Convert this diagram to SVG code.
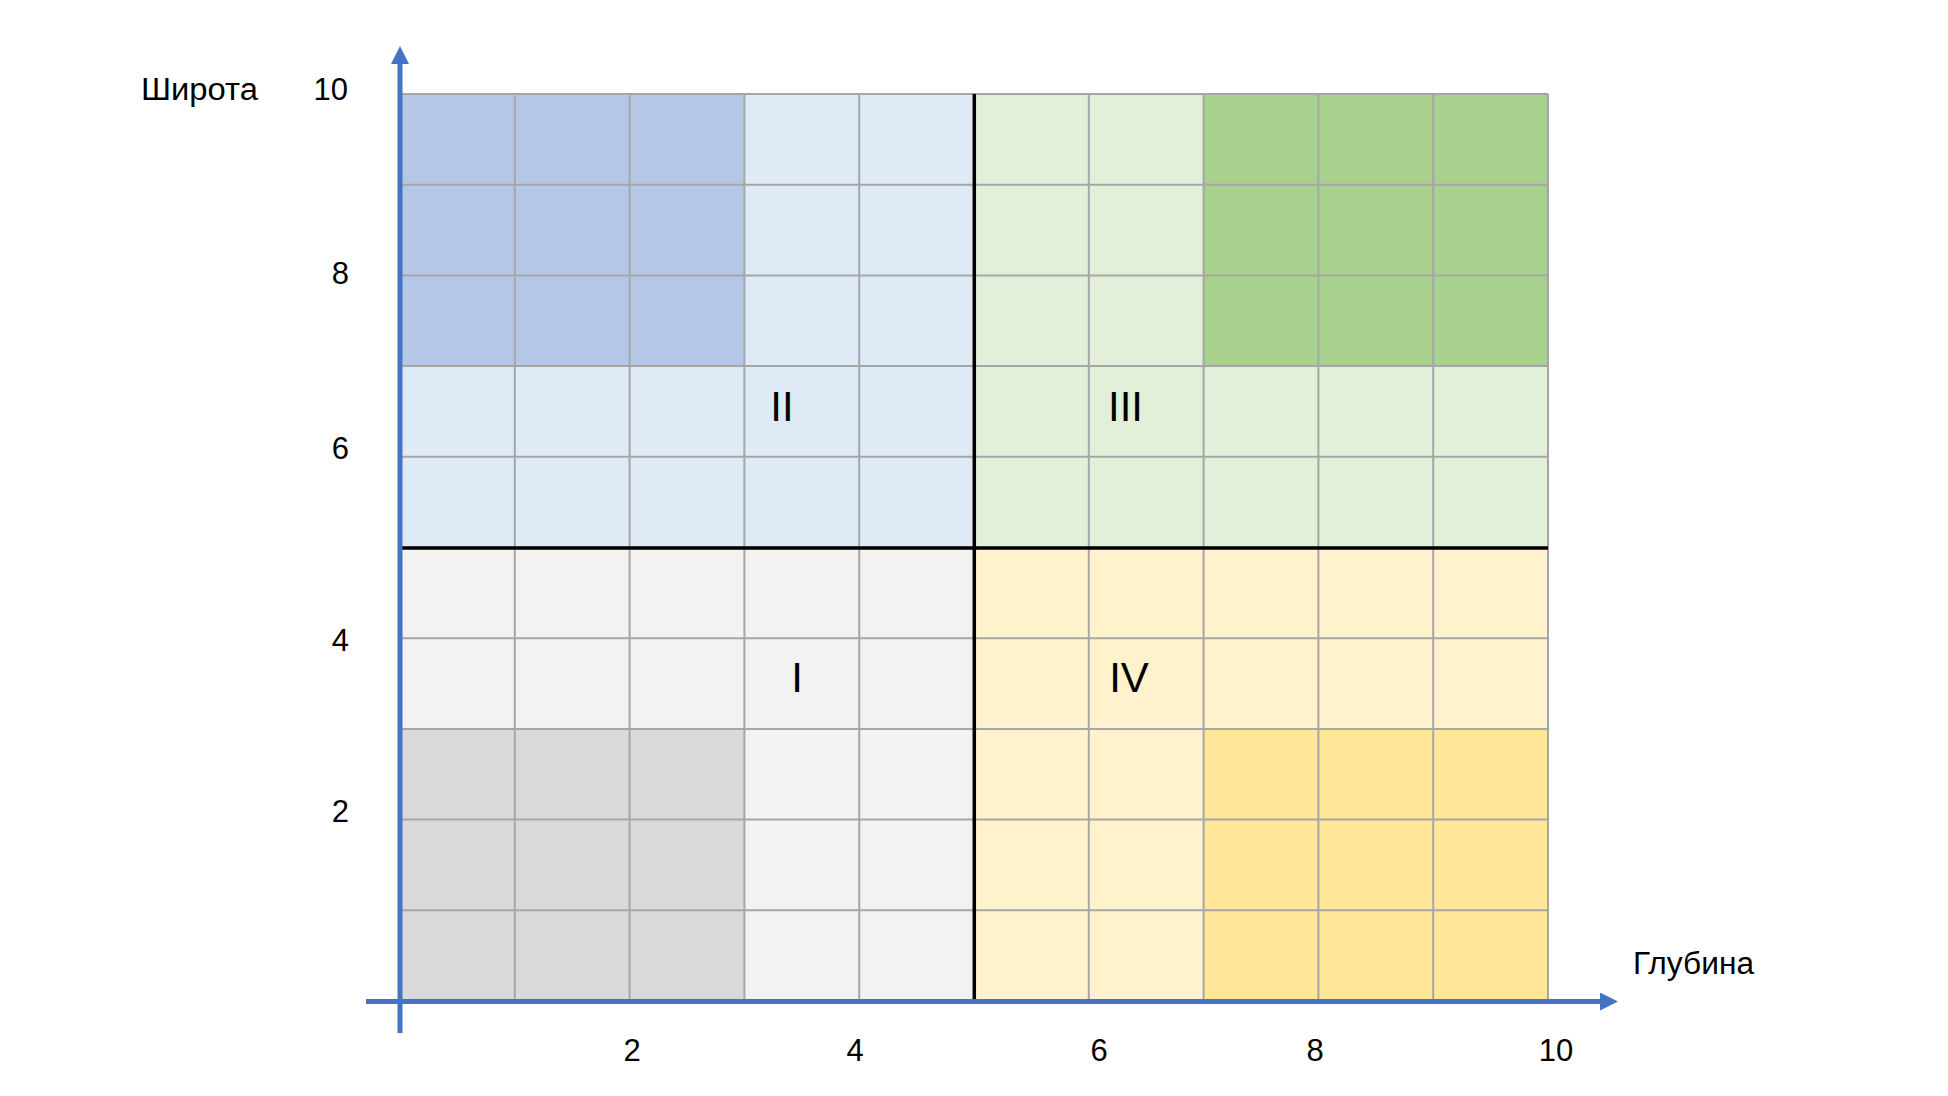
<svg xmlns="http://www.w3.org/2000/svg" width="1948" height="1096" viewBox="0 0 1948 1096">
<style>
.t{font-family:"Liberation Sans",Arial,sans-serif;font-size:31px;fill:#000}
.r{font-family:"Liberation Sans",Arial,sans-serif;font-size:42px;fill:#000;text-anchor:middle}
.m{text-anchor:middle}
.e{text-anchor:end}
.g{stroke:#A6A6A6;stroke-width:2;fill:none}
.q{stroke:#000;stroke-width:3.5;fill:none}
.ax{stroke:#4472C4;stroke-width:5;fill:none}
</style>
<defs>
<marker id="ah" viewBox="0 0 18 18" refX="0" refY="9" markerWidth="18" markerHeight="18" markerUnits="userSpaceOnUse" orient="auto">
<path d="M0,0 L18,9 L0,18 Z" fill="#4472C4"/>
</marker>
</defs>
<rect width="1948" height="1096" fill="#fff"/>
<g id="quadrant-II">
<rect x="400" y="94" width="574" height="453.5" fill="#DEEBF7"/>
<rect x="400" y="94" width="344.4" height="272.1" fill="#B4C7E7"/>
</g>
<g id="quadrant-III">
<rect x="974" y="94" width="574" height="453.5" fill="#E2F0D9"/>
<rect x="1203.6" y="94" width="344.4" height="272.1" fill="#A9D18E"/>
</g>
<g id="quadrant-I">
<rect x="400" y="547.5" width="574" height="453.5" fill="#F2F2F2"/>
<rect x="400" y="728.9" width="344.4" height="272.1" fill="#D9D9D9"/>
</g>
<g id="quadrant-IV">
<rect x="974" y="547.5" width="574" height="453.5" fill="#FFF2CC"/>
<rect x="1203.6" y="728.9" width="344.4" height="272.1" fill="#FFE699"/>
</g>
<g id="grid" class="g">
<path d="M514.8,94V1001M629.6,94V1001M744.4,94V1001M859.2,94V1001M974,94V1001M1088.8,94V1001M1203.6,94V1001M1318.4,94V1001M1433.2,94V1001M1548,94V1001"/>
<path d="M400,94H1548M400,184.7H1548M400,275.4H1548M400,366.1H1548M400,456.8H1548M400,547.5H1548M400,638.2H1548M400,728.9H1548M400,819.6H1548M400,910.3H1548"/>
</g>
<g id="dividers" class="q">
<path d="M974.3,94V1001"/>
<path d="M400,548H1548"/>
</g>
<g id="connectors">
<path id="y-axis" class="ax" d="M400,1033V64" marker-end="url(#ah)"/>
<path id="x-axis" class="ax" d="M366,1001.5H1600" marker-end="url(#ah)"/>
</g>
<g id="axis-titles">
<text class="t" x="141" y="100" textLength="117" lengthAdjust="spacingAndGlyphs">Широта</text>
<text class="t" x="1633" y="974" textLength="121" lengthAdjust="spacingAndGlyphs">Глубина</text>
</g>
<g id="y-labels">
<text class="t e" x="348" y="100">10</text>
<text class="t e" x="349" y="284">8</text>
<text class="t e" x="349" y="459">6</text>
<text class="t e" x="349" y="651">4</text>
<text class="t e" x="349" y="822">2</text>
</g>
<g id="x-labels">
<text class="t m" x="632" y="1061">2</text>
<text class="t m" x="855" y="1061">4</text>
<text class="t m" x="1099" y="1061">6</text>
<text class="t m" x="1315" y="1061">8</text>
<text class="t m" x="1556" y="1061">10</text>
</g>
<g id="quadrant-labels">
<text class="r" x="782" y="421">II</text>
<text class="r" x="1125.5" y="421">III</text>
<text class="r" x="797" y="692">I</text>
<text class="r" x="1129" y="692">IV</text>
</g>
</svg>
